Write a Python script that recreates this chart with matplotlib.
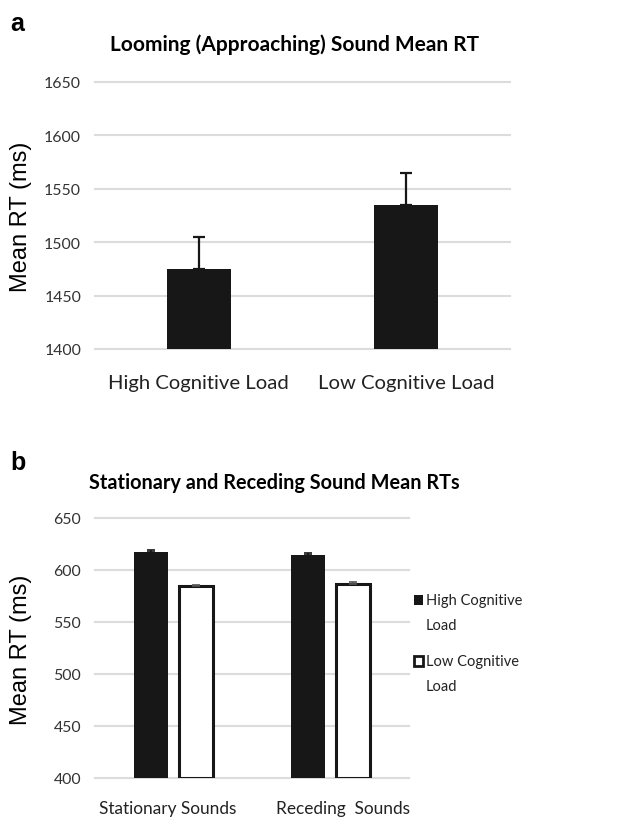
import matplotlib
matplotlib.use("Agg")
import matplotlib.pyplot as plt
import matplotlib.transforms as mtransforms
from matplotlib.patches import Rectangle
import numpy as np

# ---- data ----
top_categories = ["High Cognitive Load", "Low Cognitive Load"]
top_means = [1475, 1535]
top_errs = [30, 30]
top_yticks = [1400, 1450, 1500, 1550, 1600, 1650]

bot_categories = ["Stationary Sounds", "Receding  Sounds"]
bot_series = ["High Cognitive\nLoad", "Low Cognitive\nLoad"]
bot_high = [617, 614]
bot_high_err = [2, 2]
bot_low = [585, 587]
bot_low_err = [1, 1]
bot_yticks = [400, 450, 500, 550, 600, 650]

BAR = "#171717"
GRID = "#dcdcdc"
TFONT = ["Lato", "DejaVu Sans"]
AFONT = ["Liberation Sans", "DejaVu Sans"]

fig = plt.figure(figsize=(6.43, 8.2), dpi=100)

def style(ax, yticks):
    for s in ax.spines.values():
        s.set_visible(False)
    ax.set_ylim(yticks[0], yticks[-1])
    ax.set_yticks(yticks)
    ax.tick_params(axis="both", length=0)
    ax.tick_params(axis="y", pad=10)
    for y in yticks:
        ax.axhline(y, color=GRID, lw=1.5, zorder=0, clip_on=False)
    for lab in ax.get_yticklabels():
        lab.set_fontfamily(TFONT)
        lab.set_fontsize(11.4)
        lab.set_color("#333333")

# ---- panel a ----
ax1 = fig.add_axes([95/643, 1-350/820, 415/643, 267/820])
x1 = np.arange(len(top_categories))
ax1.bar(x1, top_means, width=0.31, bottom=0, color=BAR, zorder=2)
ax1.errorbar(x1, top_means, yerr=[np.zeros(len(top_errs)), top_errs], fmt="none",
             ecolor=BAR, elinewidth=1.6, capsize=4, capthick=1.6, zorder=3)
ax1.set_xlim(-0.5, 1.5)
style(ax1, top_yticks)
ax1.set_xticks(x1)
ax1.set_xticklabels(top_categories, fontfamily=TFONT, fontsize=14.6, color="#222222")
ax1.tick_params(axis="x", pad=18)
fig.text(21/643, 1-217/820, "Mean RT (ms)", rotation=90, ha="center", va="center",
         fontfamily=AFONT, fontsize=17)
fig.text(294/643, 1-45/820, "Looming (Approaching) Sound Mean RT", ha="center", va="center",
         fontfamily=TFONT, fontweight="bold", fontsize=15)
fig.text(10/643, 1-24/820, "a", ha="left", va="center", fontfamily=AFONT,
         fontweight="bold", fontsize=18)

# ---- panel b ----
ax2 = fig.add_axes([95/643, 1-779/820, 314/643, 260/820])
x2 = np.arange(len(bot_categories))
w = 0.22
off = 0.142
ax2.bar(x2 - off, np.array(bot_high) - 400, width=w, bottom=400, color=BAR, zorder=2)
ax2.bar(x2 + off, np.array(bot_low) - 400, width=w, bottom=400, facecolor="white",
        edgecolor=BAR, linewidth=2.2, zorder=2)
ax2.errorbar(x2 - off, bot_high, yerr=[np.zeros(2), bot_high_err], fmt="none",
             ecolor=BAR, elinewidth=1.2, capsize=3, capthick=1.2, zorder=3)
ax2.errorbar(x2 + off, bot_low, yerr=[np.zeros(2), bot_low_err], fmt="none",
             ecolor="#555555", elinewidth=1.2, capsize=3, capthick=1.2, zorder=3)
ax2.set_xlim(-0.5, 1.5)
style(ax2, bot_yticks)
ax2.set_xticks(x2)
ax2.set_xticklabels(bot_categories, fontfamily=TFONT, fontsize=12.4, color="#222222")
ax2.tick_params(axis="x", pad=16)
shifts = [-6, 13]
for lab, dx in zip(ax2.get_xticklabels(), shifts):
    lab.set_transform(lab.get_transform() +
                      mtransforms.ScaledTranslation(dx/100, 0, fig.dpi_scale_trans))
fig.text(21/643, 1-650/820, "Mean RT (ms)", rotation=90, ha="center", va="center",
         fontfamily=AFONT, fontsize=17)
fig.text(274/643, 1-483/820, "Stationary and Receding Sound Mean RTs", ha="center", va="center",
         fontfamily=TFONT, fontweight="bold", fontsize=14.3)
fig.text(10/643, 1-463/820, "b", ha="left", va="center", fontfamily=AFONT,
         fontweight="bold", fontsize=18)

# manual legend (handle aligned with first text line)
leg_y = [601, 662]
styles = [dict(facecolor=BAR, edgecolor=BAR, lw=0),
          dict(facecolor="white", edgecolor=BAR, lw=2.0)]
for name, yc, st in zip(bot_series, leg_y, styles):
    fig.patches.append(Rectangle((414/643, 1-(yc+5)/820), 9/643, 10/820,
                                 transform=fig.transFigure, **st))
    for i, line in enumerate(name.split("\n")):
        fig.text(426/643, 1-(yc + 25*i)/820, line, ha="left", va="center",
                 fontfamily=TFONT, fontsize=10.5, color="#222222")

fig.savefig("out.png", dpi=100)
